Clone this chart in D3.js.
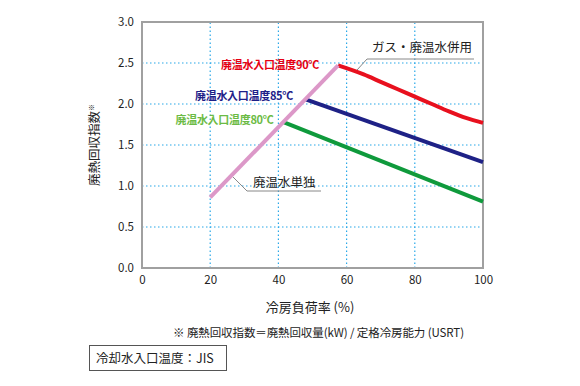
<!DOCTYPE html>
<html>
<head>
<meta charset="utf-8">
<script src="https://cdn.jsdelivr.net/npm/d3@7"></script>
<style>
  body { margin: 0; background: #fff; }
  svg text { font-family: "Noto Sans CJK JP", "Noto Sans", sans-serif; }
</style>
</head>
<body>
<div id="chart"></div>
<script>
// tick labels
var xTicks = [0, 20, 40, 60, 80, 100];
var yTicks = [0.0, 0.5, 1.0, 1.5, 2.0, 2.5, 3.0];

// series (load %, index)
var singleLoad = [20, 57.5];
var singleVal = [0.86, 2.47];
var t90Load = [57.5, 65, 70, 75, 80, 85, 90, 95, 100];
var t90Val = [2.47, 2.36, 2.27, 2.18, 2.09, 2.0, 1.91, 1.83, 1.77];
var t85Load = [47.8, 100];
var t85Val = [2.06, 1.29];
var t80Load = [41.5, 100];
var t80Val = [1.78, 0.81];

var width = 580, height = 386;
var margin = { left: 142, top: 22, right: 97, bottom: 118 };
var innerW = width - margin.left - margin.right;
var innerH = height - margin.top - margin.bottom;

var svg = d3.select("#chart").append("svg")
    .attr("width", width)
    .attr("height", height);

var x = d3.scaleLinear().domain([0, 100]).range([margin.left, margin.left + innerW]);
var y = d3.scaleLinear().domain([0, 3]).range([margin.top + innerH, margin.top]);

// dotted grid
svg.append("g").selectAll("line")
  .data(xTicks.slice(1, -1))
  .enter().append("line")
    .attr("x1", d => x(d)).attr("x2", d => x(d))
    .attr("y1", y(0)).attr("y2", y(3))
    .attr("stroke", "#29a8e8").attr("stroke-width", 1.2)
    .attr("stroke-dasharray", "1.5,2.5");

svg.append("g").selectAll("line")
  .data(yTicks.slice(1, -1))
  .enter().append("line")
    .attr("x1", x(0)).attr("x2", x(100))
    .attr("y1", d => y(d)).attr("y2", d => y(d))
    .attr("stroke", "#29a8e8").attr("stroke-width", 1.2)
    .attr("stroke-dasharray", "1.5,2.5");

// frame
svg.append("rect")
    .attr("x", x(0)).attr("y", y(3))
    .attr("width", innerW).attr("height", innerH)
    .attr("fill", "none")
    .attr("stroke", "#a0a0a0").attr("stroke-width", 2);

// axes
var xAxis = d3.axisBottom(x).tickValues(xTicks).tickSize(0).tickPadding(8);
var yAxis = d3.axisLeft(y).tickValues(yTicks).tickSize(0).tickPadding(8)
    .tickFormat(d3.format(".1f"));

svg.append("g").attr("transform", "translate(0," + y(0) + ")").call(xAxis)
  .call(g => g.select(".domain").remove())
  .selectAll("text").attr("font-size", 11.5).attr("fill", "#222");

svg.append("g").attr("transform", "translate(" + x(0) + ",0)").call(yAxis)
  .call(g => g.select(".domain").remove())
  .selectAll("text").attr("font-size", 11.5).attr("fill", "#222");

var line = d3.line().x(d => x(d[0])).y(d => y(d[1]));
var lineCurve = d3.line().x(d => x(d[0])).y(d => y(d[1])).curve(d3.curveMonotoneX);

function draw(loads, vals, color, gen) {
  svg.append("path")
    .datum(loads.map((l, i) => [l, vals[i]]))
    .attr("d", gen)
    .attr("fill", "none")
    .attr("stroke", color)
    .attr("stroke-width", 4)
    .attr("stroke-linecap", "butt");
}

draw(t80Load, t80Val, "#0f9a3c", line);
draw(t85Load, t85Val, "#1e2186", line);
draw(t90Load, t90Val, "#e8101e", lineCurve);
draw(singleLoad, singleVal, "#dc98c8", line);

// series labels
var labels = [
  { text: "廃温水入口温度90℃", color: "#e60012", load: 57.5, val: 2.47, dx: -19, dy: 4 },
  { text: "廃温水入口温度85℃", color: "#1d2088", load: 47.8, val: 2.06, dx: -12, dy: 1 },
  { text: "廃温水入口温度80℃", color: "#6cbb45", load: 41.5, val: 1.78, dx: -10, dy: 2 }
];
svg.append("g").selectAll("text")
  .data(labels)
  .enter().append("text")
    .attr("x", d => x(d.load) + d.dx)
    .attr("y", d => y(d.val) + d.dy)
    .attr("text-anchor", "end")
    .attr("font-size", 11)
    .attr("font-weight", "bold")
    .attr("letter-spacing", -0.3)
    .attr("fill", d => d.color)
    .text(d => d.text);

// callouts
function callout(text, tx, ty, lineX1, lineX2, lineY, px, py) {
  svg.append("path")
    .attr("d", "M" + px + "," + py + "L" + lineX1 + "," + lineY + "L" + lineX2 + "," + lineY)
    .attr("fill", "none").attr("stroke", "#888").attr("stroke-width", 1);
  svg.append("text")
    .attr("x", tx).attr("y", ty)
    .attr("font-size", 12.5).attr("fill", "#222")
    .text(text);
}
callout("ガス・廃温水併用", 372, 52, 367, 474, 59, 357, 70);
callout("廃温水単独", 253, 187, 247, 321, 191, 233, 177);

// axis titles
svg.append("text")
    .attr("transform", "translate(99,145) rotate(-90)")
    .attr("text-anchor", "middle")
    .attr("font-size", 12.5).attr("fill", "#222")
    .text("廃熱回収指数")
  .append("tspan")
    .attr("font-size", 7).attr("dy", -5)
    .text("※");

svg.append("text")
    .attr("x", 310).attr("y", 312)
    .attr("text-anchor", "middle")
    .attr("font-size", 13).attr("fill", "#222")
    .text("冷房負荷率 (%)");

svg.append("text")
    .attr("x", 173).attr("y", 337)
    .attr("font-size", 11.5).attr("fill", "#222")
    .attr("letter-spacing", -0.1)
    .text("※ 廃熱回収指数＝廃熱回収量(kW) / 定格冷房能力 (USRT)");

svg.append("rect")
    .attr("x", 89.5).attr("y", 345.5)
    .attr("width", 137).attr("height", 25)
    .attr("fill", "none").attr("stroke", "#555").attr("stroke-width", 1);

svg.append("text")
    .attr("x", 96).attr("y", 363)
    .attr("font-size", 12.5).attr("fill", "#222")
    .text("冷却水入口温度：JIS");
</script>
</body>
</html>
